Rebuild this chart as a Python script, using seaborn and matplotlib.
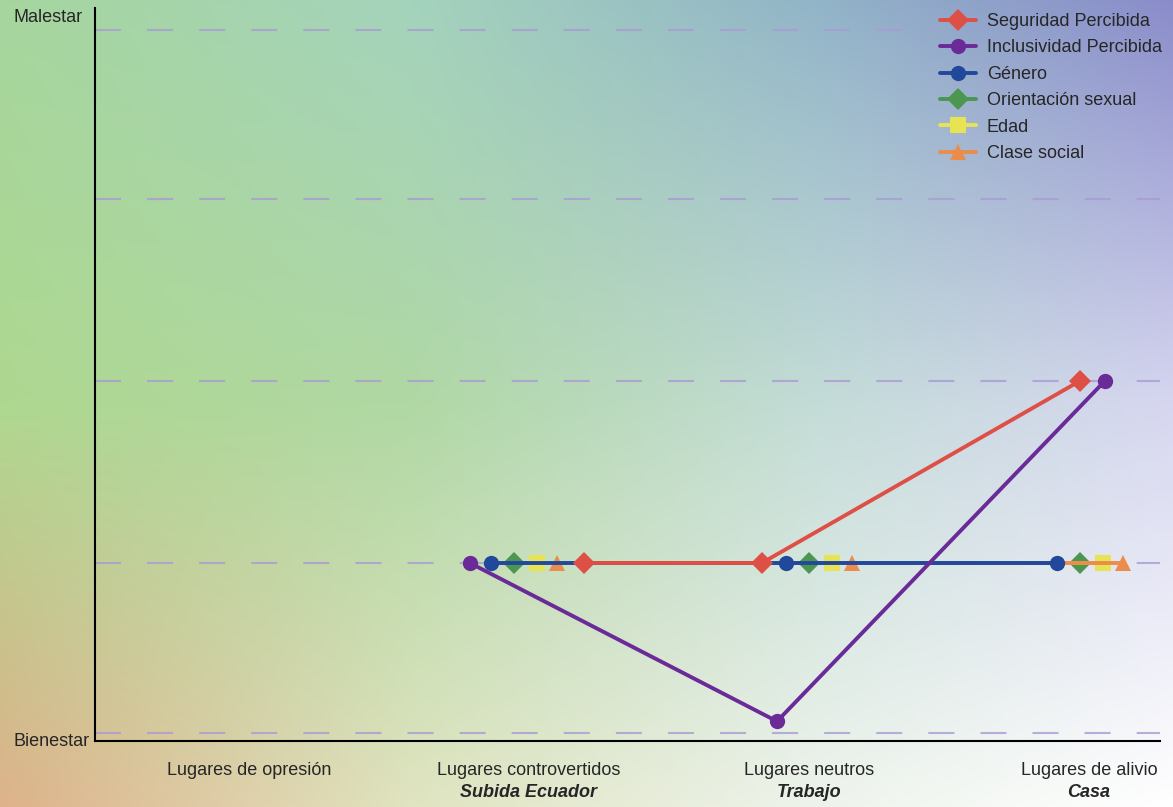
import numpy as np
import pandas as pd
import seaborn as sns
import matplotlib.pyplot as plt

lugares = ['Lugares de opresión', 'Lugares controvertidos', 'Lugares neutros', 'Lugares de alivio']
subtitulos = ['', 'Subida Ecuador', 'Trabajo', 'Casa']
series = ['Seguridad Percibida', 'Inclusividad Percibida', 'Género', 'Orientación sexual', 'Edad', 'Clase social']

seguridad = [np.nan, 1, 1, 2]
inclusividad = [np.nan, 1, 0.13, 2]
genero = [np.nan, 1, 1, 1]
orientacion = [np.nan, 1, 1, 1]
edad = [np.nan, 1, 1, 1]
clase = [np.nan, 1, 1, 1]
valores = [seguridad, inclusividad, genero, orientacion, edad, clase]

niveles = [0.066, 1, 2, 3, 3.93]
nivel_txt = ['Bienestar', '', '', '', 'Malestar']

# estilo de cada serie
colores = ['#de5046', '#6a2b98', '#22489c', '#4b9650', '#e8e352', '#eb8c4a']
marcadores = ['D', 'o', 'o', 'D', 's', '^']
tam = [11, 11, 11, 11, 12, 12]
orden_z = [6, 7, 5, 3, 3, 3]
# desplazamiento horizontal de cada marcador dentro de su lugar
desplaz = {
    'Seguridad Percibida': [0, 0.196, -0.168, -0.032],
    'Inclusividad Percibida': [0, -0.211, -0.114, 0.057],
    'Género': [0, -0.136, -0.082, -0.114],
    'Orientación sexual': [0, -0.054, 0.0, -0.032],
    'Edad': [0, 0.029, 0.082, 0.05],
    'Clase social': [0, 0.1, 0.154, 0.121],
}

filas = []
for s, v in zip(series, valores):
    for i, val in enumerate(v):
        filas.append({'serie': s, 'x': i + desplaz[s][i], 'valor': val})
df = pd.DataFrame(filas).dropna()


def fondo(h, w):
    ry = [0, 0.5, 1]
    cx = [0, 0.35, 0.7, 1]
    G = np.array([
        [[166, 214, 158], [164, 211, 188], [146, 180, 200], [138, 140, 202]],
        [[174, 216, 144], [176, 216, 164], [196, 220, 216], [214, 214, 240]],
        [[222, 178, 138], [224, 228, 192], [238, 244, 236], [255, 255, 255]],
    ]) / 255
    xs = np.linspace(0, 1, w)
    ys = np.linspace(0, 1, h)
    rows = np.array([[np.interp(xs, cx, G[r, :, c]) for c in range(3)] for r in range(3)])
    rows = rows.transpose(0, 2, 1)  # (3, w, 3)
    fi = np.interp(ys, ry, np.arange(3))
    i0 = np.clip(np.floor(fi).astype(int), 0, 1)
    t = (fi - i0)[:, None, None]
    return rows[i0] * (1 - t) + rows[i0 + 1] * t


sns.set_style('white')
plt.rcParams['font.family'] = ['Liberation Sans', 'DejaVu Sans']
fs = 13

fig = plt.figure(figsize=(11.73, 8.07), dpi=100)
bg = fig.add_axes([0, 0, 1, 1], zorder=-10)
bg.imshow(fondo(807, 1173), aspect='auto', extent=[0, 1, 0, 1])
bg.axis('off')

ax = fig.add_axes([95 / 1173, 1 - 741 / 807, 1065 / 1173, 733 / 807])
ax.set_facecolor('none')

for k, s in enumerate(series):
    sns.lineplot(data=df[df['serie'] == s], x='x', y='valor', sort=False, ax=ax,
                 color=colores[k], marker=marcadores[k], markersize=tam[k],
                 markeredgewidth=0, linewidth=2.8, label=s, zorder=orden_z[k])

for n in niveles:
    fin = 0.79 if n == niveles[-1] else 1
    ax.axhline(n, xmin=0, xmax=fin, color='#a99bd3', alpha=0.8, lw=1.5,
               ls=(0, (12.5, 12.5)), zorder=1)

ax.set_xlim(-0.55, 3.254)
ax.set_ylim(0.022, 4.049)
ax.set_xticks(range(len(lugares)))
ax.set_xticklabels(lugares, fontsize=fs)
ax.tick_params(axis='x', length=0, pad=15)
for i, sub in enumerate(subtitulos):
    if sub:
        ax.annotate(sub, xy=(i, 0), xycoords=('data', 'axes fraction'), xytext=(0, -31),
                    textcoords='offset points', ha='center', va='top', fontsize=fs,
                    fontweight='bold', fontstyle='italic')

ax.set_yticks(niveles)
ax.set_yticklabels([])
ax.tick_params(axis='y', direction='inout', length=20, width=1.5, color='black')
ax.annotate(nivel_txt[-1], xy=(0, niveles[-1]), xycoords=('axes fraction', 'data'),
            xytext=(-9, 9), textcoords='offset points', ha='right', va='center', fontsize=fs)
ax.annotate(nivel_txt[0], xy=(0, niveles[0]), xycoords=('axes fraction', 'data'),
            xytext=(-4, -6), textcoords='offset points', ha='right', va='center', fontsize=fs)

ax.set_xlabel('')
ax.set_ylabel('')
for lado in ['top', 'right']:
    ax.spines[lado].set_visible(False)
for lado in ['left', 'bottom']:
    ax.spines[lado].set_color('black')
    ax.spines[lado].set_linewidth(1.5)

ax.legend(loc='upper right', bbox_to_anchor=(1.0066, 1.0), frameon=False, fontsize=fs,
          handlelength=2.0, handletextpad=0.6, labelspacing=0.52,
          borderaxespad=0, borderpad=0.28)

fig.savefig('out.png', dpi=100)
